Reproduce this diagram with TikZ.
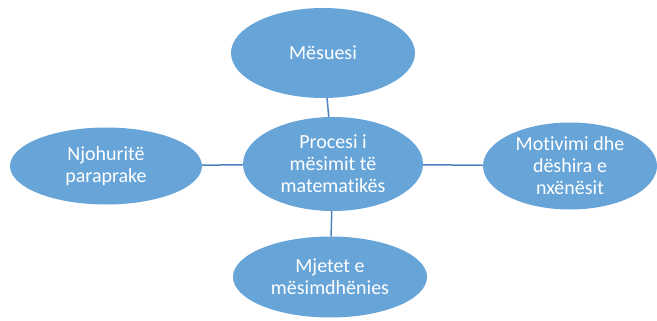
\documentclass[tikz,border=0pt]{standalone}
\usepackage{fontspec}
\setmainfont{Carlito}[Ligatures=NoCommon]
\usetikzlibrary{shapes.geometric}
\definecolor{bulle}{RGB}{103,164,216}
\definecolor{trait}{RGB}{79,129,189}
\begin{document}
\begin{tikzpicture}[x=1pt, y=-1pt,
    bulle/.style={ellipse, fill=bulle, inner sep=0pt, text=white, align=center,
        font=\fontsize{20}{22}\selectfont},
    trait/.style={draw=trait, line width=1.5pt}]
    \useasboundingbox (0,0) rectangle (657,321);
    \node[bulle, minimum width=184, minimum height=90] (mesuesi) at (323,53) {Mësuesi};
    \node[bulle, minimum width=180, minimum height=94] (procesi) at (333,164) {Procesi i\\mësimit të\\matematikës};
    \node[bulle, minimum width=194, minimum height=81] (mjetet) at (330,277) {Mjetet e\\mësimdhënies};
    \node[bulle, minimum width=192, minimum height=77] (njohurite) at (106,166) {Njohuritë\\paraprake};
    \node[bulle, minimum width=174, minimum height=87] (motivimi) at (570,166) {Motivimi dhe\\dëshira e\\nxënësit};
    % lidhjet
    \draw[trait] (mesuesi)--(procesi);
    \draw[trait] (procesi)--(mjetet);
    \draw[trait] (njohurite)--(procesi);
    \draw[trait] (procesi)--(motivimi);
\end{tikzpicture}
\end{document}
